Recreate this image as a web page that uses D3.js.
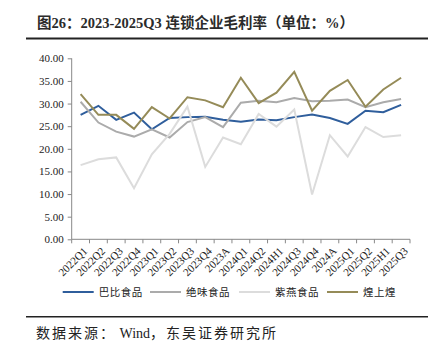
<!DOCTYPE html>
<html><head><meta charset="utf-8">
<script src="https://cdn.jsdelivr.net/npm/d3@7"></script>
<style>
html,body{margin:0;padding:0;background:#fff;}
svg{display:block;}
</style></head>
<body>
<svg id="c" width="436" height="354"></svg>
<script>
const categories = ["2022Q1","2022Q2","2022Q3","2022Q4","2023Q1","2023Q2","2023Q3","2023Q4","2023A","2024Q1","2024Q2","2024H1","2024Q3","2024Q4","2024A","2025Q1","2025Q2","2025H1","2025Q3"];
const babi    = [27.5,29.5,26.4,28.0,24.3,26.8,27.0,27.1,26.4,26.0,26.5,26.3,27.0,27.6,26.8,25.5,28.4,28.1,29.7];
const juewei  = [30.4,25.8,23.8,22.7,24.3,22.5,25.9,27.0,24.8,30.2,30.6,30.3,31.2,30.5,30.6,30.9,29.2,30.3,31.0];
const ziyan   = [16.4,17.7,18.1,11.3,18.8,23.3,29.3,16.0,22.5,21.0,27.7,24.9,28.7,9.9,23.0,18.3,24.8,22.6,23.0];
const huangshanghuang = [32.1,27.5,27.5,24.4,29.2,26.7,31.4,30.7,29.2,35.7,30.1,32.4,37.0,28.4,32.8,35.2,29.3,33.1,35.7];
const seriesNames = ["巴比食品","绝味食品","紫燕食品","煌上煌"];
const seriesColors = ["#2F5E9C","#ABABAB","#DCDCDC","#958B58"];
const yTicks = [0,5,10,15,20,25,30,35,40];
const titleText = "图26：2023-2025Q3 连锁企业毛利率（单位：%）";
const sourceParts = ["数据来源：", " Wind", "，东吴证券研究所"];

const seriesData = [babi, juewei, ziyan, huangshanghuang];
const svg = d3.select("#c");
const serif = "'Times New Roman','Liberation Serif','Noto Sans CJK SC',serif";

// title
svg.append("text").attr("x",37).attr("y",28).attr("font-family",serif)
  .attr("font-weight","bold").attr("font-size",14.5).attr("fill","#2b2b2b").text(titleText);
svg.append("line").attr("x1",26).attr("x2",428).attr("y1",38.5).attr("y2",38.5)
  .attr("stroke","#222").attr("stroke-width",2);

const x = d3.scaleBand().domain(categories).range([71.7,410]);
const y = d3.scaleLinear().domain([0,40]).range([239.3,58.3]);

// y axis
const ya = svg.append("g").attr("transform","translate(71.7,0)")
  .call(d3.axisLeft(y).tickValues(yTicks).tickSize(4).tickFormat(d3.format(".2f")));
ya.selectAll("path,line").attr("stroke","#888");
ya.select(".domain").attr("d","M0,"+y(0)+"V"+y(40));
ya.selectAll("text").attr("font-family",serif).attr("font-size",11).attr("fill","#222").attr("x",-8);

// x axis
const xa = svg.append("g").attr("transform","translate(0,"+y(0)+")");
xa.append("line").attr("x1",71.7).attr("x2",410).attr("stroke","#888");
const bounds = categories.map(c=>x(c)).concat([x.range()[1]]);
xa.selectAll("line.tk").data(bounds).enter().append("line").attr("class","tk")
  .attr("x1",d=>d).attr("x2",d=>d).attr("y1",0).attr("y2",4).attr("stroke","#888");
xa.selectAll("text").data(categories).enter().append("text")
  .attr("transform",d=>"translate("+(x(d)+x.bandwidth()/2+2)+",7) rotate(-45)")
  .attr("text-anchor","end").attr("dy","0.7em")
  .attr("font-family",serif).attr("font-size",11).attr("fill","#222").text(d=>d);

// lines
const line = d3.line().x((d,i)=>x(categories[i])+x.bandwidth()/2).y(d=>y(d));
seriesData.forEach((s,k)=>{
  svg.append("path").datum(s).attr("d",line).attr("fill","none")
    .attr("stroke",seriesColors[k]).attr("stroke-width",2).attr("stroke-linejoin","miter");
});

// legend
const legX = [62.7,150,239,327];
seriesNames.forEach((n,k)=>{
  const g = svg.append("g").attr("transform","translate("+legX[k]+",292)");
  g.append("line").attr("x1",0).attr("x2",31).attr("y1",0).attr("y2",0)
    .attr("stroke",seriesColors[k]).attr("stroke-width",2);
  g.append("text").attr("x",36).attr("y",4).attr("font-family",serif)
    .attr("font-size",10.5).attr("letter-spacing",0.5).attr("fill","#222").text(n);
});

// source
svg.append("line").attr("x1",26).attr("x2",428).attr("y1",316.7).attr("y2",316.7)
  .attr("stroke","#222").attr("stroke-width",1.5);
const src = svg.append("text").attr("x",36).attr("y",338).attr("font-family",serif)
  .attr("font-size",14).attr("fill","#222");
sourceParts.forEach((p,i)=>{
  src.append("tspan").attr("letter-spacing", i===1 ? 0 : 2).text(p);
});
</script>
</body></html>
